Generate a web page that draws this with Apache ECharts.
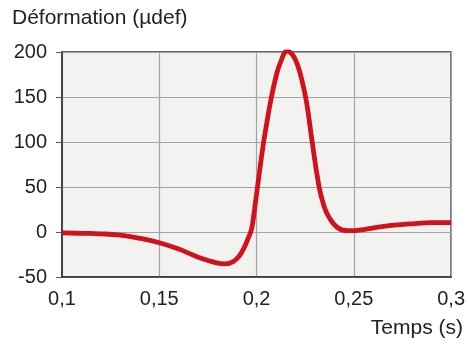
<!DOCTYPE html>
<html>
<head>
<meta charset="utf-8">
<script src="https://cdn.jsdelivr.net/npm/echarts@6/dist/echarts.min.js"></script>
<style>html,body{margin:0;padding:0;background:#fff}#c{width:468px;height:345px}</style>
</head>
<body>
<div id="c"></div>
<script>
var timeS = [0.100,0.110,0.120,0.130,0.140,0.150,0.160,0.170,0.178,0.184,0.188,0.191,0.1935,0.1955,0.1975,0.1990,0.2005,0.2033,0.2055,0.2073,0.2098,0.2124,0.2158,0.2185,0.221,0.2235,0.2258,0.2286,0.232,0.2345,0.2371,0.2422,0.2473,0.2558,0.2644,0.2729,0.2814,0.2899,0.300];
var strain = [-1,-1.5,-2,-3.5,-7,-12,-19,-28,-33.5,-35.5,-33,-27,-18,-8,4,26,50,95,124,146,171,189,201,197,186,167,143,100,52,30,17,4,1.5,3,6,8,9.3,10.4,10.5];
var xTicks = [0.1,0.15,0.2,0.25,0.3];
var yTicks = [-50,0,50,100,150,200];
var yTitle = 'Déformation (µdef)';
var xTitle = 'Temps (s)';

var pts = timeS.map(function(t,i){return [t,strain[i]];});
var font = 'Liberation Sans, Arial, sans-serif';
var chart = echarts.init(document.getElementById('c'));
chart.setOption({
  animation:false,
  grid:{left:62,right:15,top:52,bottom:68,show:true,backgroundColor:'#f2f2f1',borderColor:'#333',borderWidth:1.5},
  xAxis:{type:'value',min:xTicks[0],max:xTicks[xTicks.length-1],interval:0.05,
    axisLine:{show:true,onZero:false,lineStyle:{color:'#333',width:1.5}},
    axisTick:{show:false},
    splitLine:{show:true,lineStyle:{color:'#a3a3a3',width:1.2}},
    axisLabel:{margin:12,fontSize:20,fontFamily:font,color:'#222',
      formatter:function(v){return String(+v.toFixed(2)).replace('.',',');}}
  },
  yAxis:{type:'value',min:yTicks[0],max:yTicks[yTicks.length-1],interval:50,
    axisLine:{show:true,onZero:false,lineStyle:{color:'#333',width:1.5}},
    axisTick:{show:true,length:6,lineStyle:{color:'#555'}},
    splitLine:{show:true,lineStyle:{color:'#a3a3a3',width:1.2}},
    axisLabel:{margin:15,fontSize:20,fontFamily:font,color:'#222',padding:[0,0,9,0]}
  },
  graphic:[
    {type:'text',left:12,top:8,style:{text:yTitle,fontSize:21,fontFamily:font,fill:'#222'}},
    {type:'text',right:5,top:318,style:{text:xTitle,fontSize:21,fontFamily:font,fill:'#222'}}
  ],
  series:[{type:'line',data:pts,smooth:0.45,showSymbol:false,
    lineStyle:{color:'#d1121c',width:4.8},clip:true}]
});
</script>
</body>
</html>
